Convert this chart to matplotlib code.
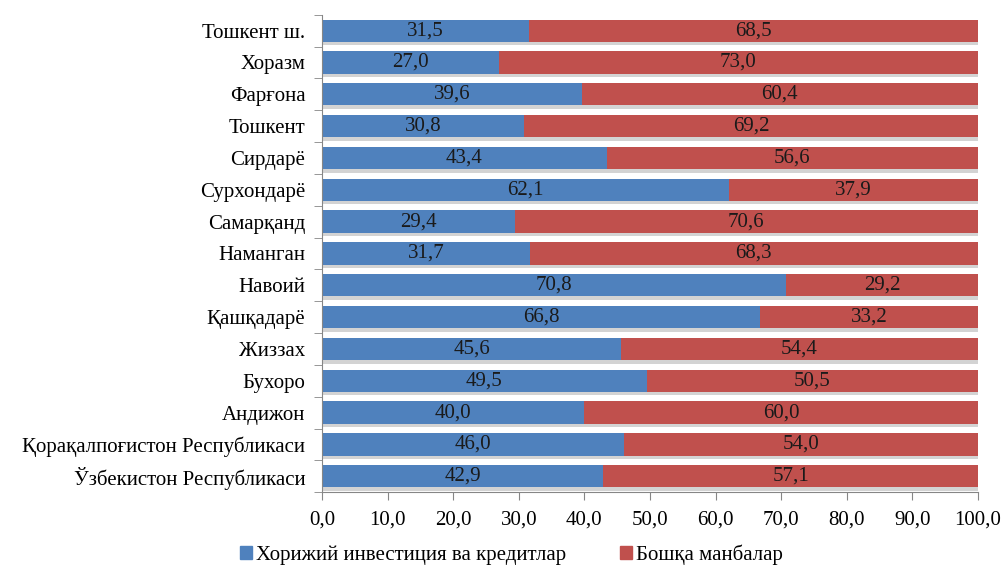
import matplotlib

matplotlib.use("Agg")
import matplotlib.pyplot as plt
import matplotlib.patheffects as pe
from matplotlib.patches import Patch
import numpy as np

regions = [
    "Ўзбекистон Республикаси",
    "Қорақалпоғистон Республикаси",
    "Андижон",
    "Бухоро",
    "Жиззах",
    "Қашқадарё",
    "Навоий",
    "Наманган",
    "Самарқанд",
    "Сурхондарё",
    "Сирдарё",
    "Тошкент",
    "Фарғона",
    "Хоразм",
    "Тошкент ш.",
]
foreign = [42.9, 46.0, 40.0, 49.5, 45.6, 66.8, 70.8, 31.7, 29.4, 62.1, 43.4, 30.8, 39.6, 27.0, 31.5]
other = [57.1, 54.0, 60.0, 50.5, 54.4, 33.2, 29.2, 68.3, 70.6, 37.9, 56.6, 69.2, 60.4, 73.0, 68.5]
series_names = ["Хорижий инвестиция ва кредитлар", "Бошқа манбалар"]

BLUE = "#4f81bd"
RED = "#c0504d"
FS = 15

plt.rcParams["font.family"] = ["Liberation Serif", "DejaVu Serif"]

fig = plt.figure(figsize=(10.03, 5.67), dpi=100)
ax = fig.add_axes((0.321, 0.132, 0.654, 0.842))

y = np.arange(len(regions))
shadow = [pe.SimplePatchShadow(offset=(0.5, -2.5), shadow_rgbFace="#a8a8a8", alpha=0.5), pe.Normal()]
ax.barh(y, foreign, height=0.7, color=BLUE, path_effects=shadow)
ax.barh(y, other, left=foreign, height=0.7, color=RED, path_effects=shadow)

for i in range(len(regions)):
    ax.text(foreign[i] / 2, y[i], f"{foreign[i]:.1f}".replace(".", ","),
            ha="center", va="center", fontsize=FS, color="#1a1a1a")
    ax.text(foreign[i] + other[i] / 2, y[i], f"{other[i]:.1f}".replace(".", ","),
            ha="center", va="center", fontsize=FS, color="#1a1a1a")

ax.set_xlim(0, 100)
ax.set_ylim(-0.5, len(regions) - 0.5)
ax.set_yticks(y)
ax.set_yticklabels(regions, fontsize=FS)
ax.set_yticks(np.arange(-0.5, len(regions), 1.0), minor=True)
ax.tick_params(axis="y", which="major", length=0, pad=12)
ax.tick_params(axis="y", which="minor", length=6, color="#868686", direction="out")

xt = np.arange(0, 101, 10)
ax.set_xticks(xt)
ax.set_xticklabels([f"{v:.1f}".replace(".", ",") for v in xt], fontsize=FS)
ax.tick_params(axis="x", length=6, color="#868686", direction="out", pad=7)

for side in ("top", "right"):
    ax.spines[side].set_visible(False)
for side in ("left", "bottom"):
    ax.spines[side].set_color("#868686")

handles = [Patch(color=BLUE, label=series_names[0]), Patch(color=RED, label=series_names[1])]
fig.legend(handles=handles, loc="center", bbox_to_anchor=(0.51, 0.022), ncol=2,
           frameon=False, fontsize=FS, handlelength=0.55, handleheight=0.55,
           handletextpad=0.2, columnspacing=2.6)

fig.savefig("out.png", dpi=100)
